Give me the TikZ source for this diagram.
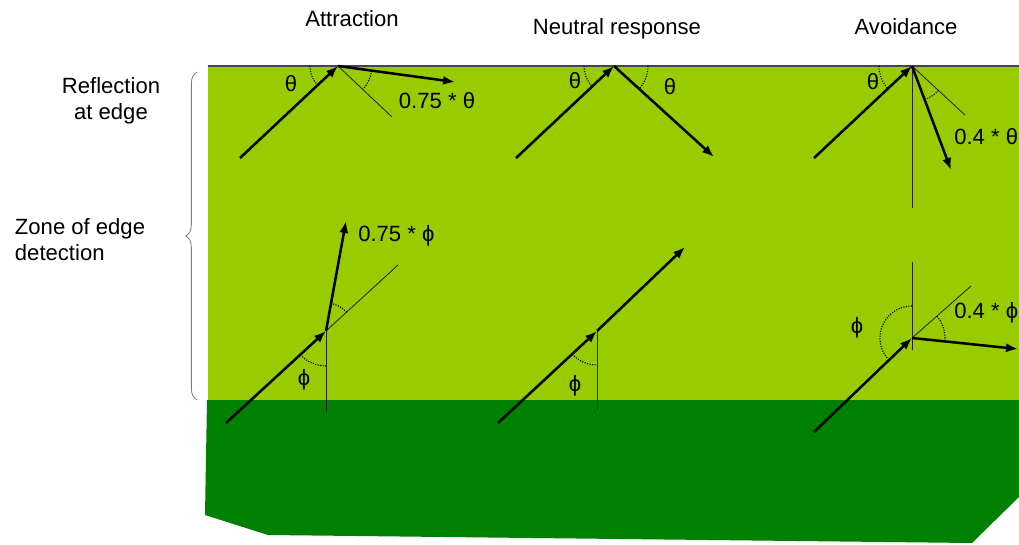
\documentclass[tikz,border=0pt]{standalone}
\usepackage{fontspec}
\setmainfont{Liberation Sans}
\usepackage{tikz}
\usetikzlibrary{arrows.meta,decorations.pathreplacing}
\definecolor{fieldgreen}{RGB}{153,204,0}
\definecolor{habitatgreen}{RGB}{0,128,0}
\definecolor{edgegrey}{RGB}{70,70,70}
\definecolor{bracegrey}{RGB}{125,125,125}
\tikzset{
  move/.style={-{Latex[length=8.5pt,width=6.5pt]},line width=1.8pt,draw=black},
  guide/.style={line width=0.6pt,draw=black!85},
  anglemark/.style={densely dotted,line width=0.8pt},
  heading/.style={font=\fontsize{15.7}{18.5}\selectfont,align=center},
  anglelabel/.style={font=\fontsize{15.7}{18.5}\selectfont,inner sep=0pt}
}

\begin{document}
\begin{tikzpicture}[x=0.025cm,y=-0.025cm]
  \useasboundingbox (0,0) rectangle (1019,545);
  \fill[habitatgreen] (207,400) -- (1019,400) -- (1019,497) -- (972,543)
    -- (268,535) -- (205,515) -- cycle;
  \fill[fieldgreen] (208,66) rectangle (1019,400);
  \draw[edgegrey,line width=1.6pt] (208,66) -- (1019,66);
  \draw[bracegrey,line width=0.6pt,decorate,
    decoration={brace,amplitude=8pt,aspect=0.5}] (197,400) -- (197,72);

  \node[heading] (attraction) at (352,19) {Attraction};
  \node[heading] (neutral) at (617,29) {Neutral response};
  \node[heading] (avoidance) at (906,27) {Avoidance};
  \node[heading] (reflection) at (111,101) {Reflection\\at edge};
  \node[heading,align=left,anchor=west] (zone) at (10,240) {Zone of edge\\detection};

  % reflection at the edge
  \coordinate (a1) at (338,66);
  \coordinate (a1in) at (240,158);
  \coordinate (a1out) at (455,82);
  \coordinate (a1mir) at (392,117);
  \draw[guide] (a1) -- (a1mir);
  \draw[move] (a1in) -- (a1);
  \draw[move] (a1) -- (a1out);
  \draw[anglemark] (a1) ++(180:28) arc[start angle=180,end angle=137,radius=28];
  \draw[anglemark] (a1) ++(8:34) arc[start angle=8,end angle=43,radius=34];
  \node[anglelabel] (a1theta) at (291,84) {θ};
  \node[anglelabel] (a1frac) at (437,101) {0.75 * θ};

  \coordinate (n1) at (614,66);
  \coordinate (n1in) at (516,158);
  \coordinate (n1out) at (714,157);
  \draw[move] (n1in) -- (n1);
  \draw[move] (n1) -- (n1out);
  \draw[anglemark] (n1) ++(180:30) arc[start angle=180,end angle=137,radius=30];
  \draw[anglemark] (n1) ++(0:34) arc[start angle=0,end angle=42,radius=34];
  \node[anglelabel] (n1theta) at (575,81) {θ};
  \node[anglelabel] (n1thetb) at (670,87) {θ};

  \coordinate (v1) at (912,66);
  \coordinate (v1in) at (814,158);
  \coordinate (v1out) at (951,170);
  \coordinate (v1mir) at (965,115);
  \coordinate (v1low) at (912,208);
  \draw[guide] (v1) -- (v1low);
  \draw[guide] (v1) -- (v1mir);
  \draw[move] (v1in) -- (v1);
  \draw[move] (v1) -- (v1out);
  \draw[anglemark] (v1) ++(180:33) arc[start angle=180,end angle=137,radius=33];
  \draw[anglemark] (v1) ++(43:36) arc[start angle=43,end angle=69,radius=36];
  \node[anglelabel] (v1theta) at (873,82) {θ};
  \node[anglelabel,anchor=west] (v1frac) at (954,137) {0.4 * θ};

  % zone of edge detection
  \coordinate (a2) at (326,331);
  \coordinate (a2in) at (226,423);
  \coordinate (a2out) at (346,221);
  \coordinate (a2on) at (398,265);
  \coordinate (a2low) at (326,412);
  \draw[guide] (a2) -- (a2low);
  \draw[guide] (a2) -- (a2on);
  \draw[move] (a2in) -- (a2);
  \draw[move] (a2) -- (a2out);
  \draw[anglemark] (a2) ++(137:35) arc[start angle=137,end angle=90,radius=35];
  \draw[anglemark] (a2) ++(-42:28) arc[start angle=-42,end angle=-80,radius=28];
  \node[anglelabel] (a2phi) at (304,380) {ϕ};
  \node[anglelabel,anchor=west] (a2frac) at (358,236) {0.75 * ϕ};

  \coordinate (n2) at (597,331);
  \coordinate (n2in) at (498,423);
  \coordinate (n2out) at (685,247);
  \coordinate (n2low) at (597,410);
  \draw[guide] (n2) -- (n2low);
  \draw[move] (n2in) -- (n2);
  \draw[move] (n2) -- (n2out);
  \draw[anglemark] (n2) ++(137:34) arc[start angle=137,end angle=90,radius=34];
  \node[anglelabel] (n2phi) at (575,386) {ϕ};

  \coordinate (v2) at (912,338);
  \coordinate (v2in) at (814,432);
  \coordinate (v2out) at (1018,349);
  \coordinate (v2on) at (971,286);
  \coordinate (v2up) at (912,262);
  \coordinate (v2low) at (912,350);
  \draw[guide] (v2up) -- (v2low);
  \draw[guide] (v2) -- (v2on);
  \draw[move] (v2in) -- (v2);
  \draw[move] (v2) -- (v2out);
  \draw[anglemark] (v2) ++(270:32) arc[start angle=270,end angle=136,radius=32];
  \draw[anglemark] (v2) ++(-41:33) arc[start angle=-41,end angle=6,radius=33];
  \node[anglelabel] (v2phi) at (857,328) {ϕ};
  \node[anglelabel,anchor=west] (v2frac) at (954,313) {0.4 * ϕ};
\end{tikzpicture}
\end{document}
